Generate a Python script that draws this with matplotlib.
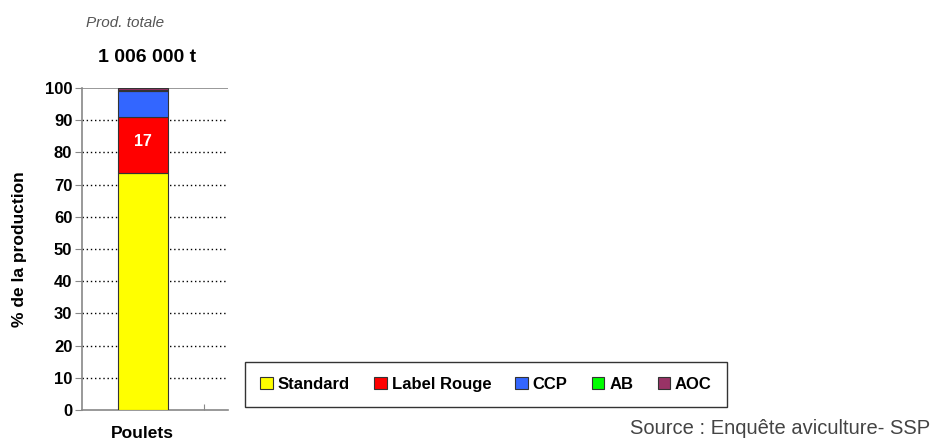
import matplotlib
matplotlib.use("Agg")
import matplotlib.pyplot as plt
from matplotlib.patches import Patch

plt.rcParams['font.family'] = ['Liberation Sans', 'DejaVu Sans']

categories = ["Poulets"]
series_names = ["Standard", "Label Rouge", "CCP", "AB", "AOC"]
series_values = [[73.5], [17.5], [8.2], [0.1], [0.7]]
series_colors = ["#FFFF00", "#FF0000", "#3366FF", "#00FF00", "#993366"]
bar_labels = {"Label Rouge": "17"}
yticks = [0, 10, 20, 30, 40, 50, 60, 70, 80, 90, 100]
total_label = "1 006 000 t"

fig = plt.figure(figsize=(9.35, 4.44), dpi=100)
ax = fig.add_axes([82/935, 1-410/444, (228-82)/935, (410-88)/444])

x = list(range(len(categories)))
bottom = [0.0] * len(categories)
for name, vals, col in zip(series_names, series_values, series_colors):
    ax.bar(x, vals, bottom=bottom, width=0.41, color=col, edgecolor="#333333",
           linewidth=0.8, zorder=3)
    if name in bar_labels:
        for xi, v, b in zip(x, vals, bottom):
            ax.text(xi, b + v / 2 + 1, bar_labels[name], ha="center", va="center",
                    color="white", fontsize=11.5, fontweight="bold", zorder=4)
    bottom = [b + v for b, v in zip(bottom, vals)]

ax.set_xlim(-0.5, 0.7)
ax.set_ylim(0, 100)
ax.set_yticks(yticks)
ax.set_yticklabels([str(t) for t in yticks], fontsize=12, fontweight="bold")
ax.set_xticks([0.5])
ax.set_xticklabels([""])
ax.tick_params(axis="x", length=4, color="#888888", direction="in")
ax.tick_params(axis="y", length=5, color="#888888", pad=2)
for t in yticks[1:-1]:
    ax.axhline(t, color="black", linestyle=(0, (1, 2)), linewidth=1.0, zorder=1)
ax.axhline(100, color="#888888", linewidth=1.2, zorder=1)
for s in ["top", "right"]:
    ax.spines[s].set_visible(False)
for s in ["left", "bottom"]:
    ax.spines[s].set_color("#888888")
    ax.spines[s].set_linewidth(1.2)

ax.set_ylabel("% de la production", fontsize=12.5, fontweight="bold")
ax.yaxis.set_label_coords(-0.38, 0.5)
ax.text(0, -0.05, categories[0], transform=ax.get_xaxis_transform(), ha="center",
        va="top", fontsize=12.5, fontweight="bold")

fig.text(125/935, 1-23/444, "Prod. totale", ha="center", va="center",
         fontsize=11, style="italic", color="#555555")
fig.text(147/935, 1-58/444, total_label, ha="center", va="center",
         fontsize=14, fontweight="bold")

handles = [Patch(facecolor=c, edgecolor="#333333", linewidth=0.8) for c in series_colors]
leg = fig.legend(handles, series_names, ncol=5, loc="center",
                 bbox_to_anchor=(486/935, 1-384/444), frameon=True, fancybox=False,
                 edgecolor="black", handlelength=0.75, handleheight=0.75,
                 handletextpad=0.3, columnspacing=1.45, borderpad=0.9,
                 prop={"size": 12, "weight": "bold"})
leg.get_frame().set_linewidth(1.0)

fig.text(930/935, 1-428/444, "Source : Enquête aviculture- SSP", ha="right",
         va="center", fontsize=14.5, color="#444444")

fig.savefig("out.png", dpi=100)
